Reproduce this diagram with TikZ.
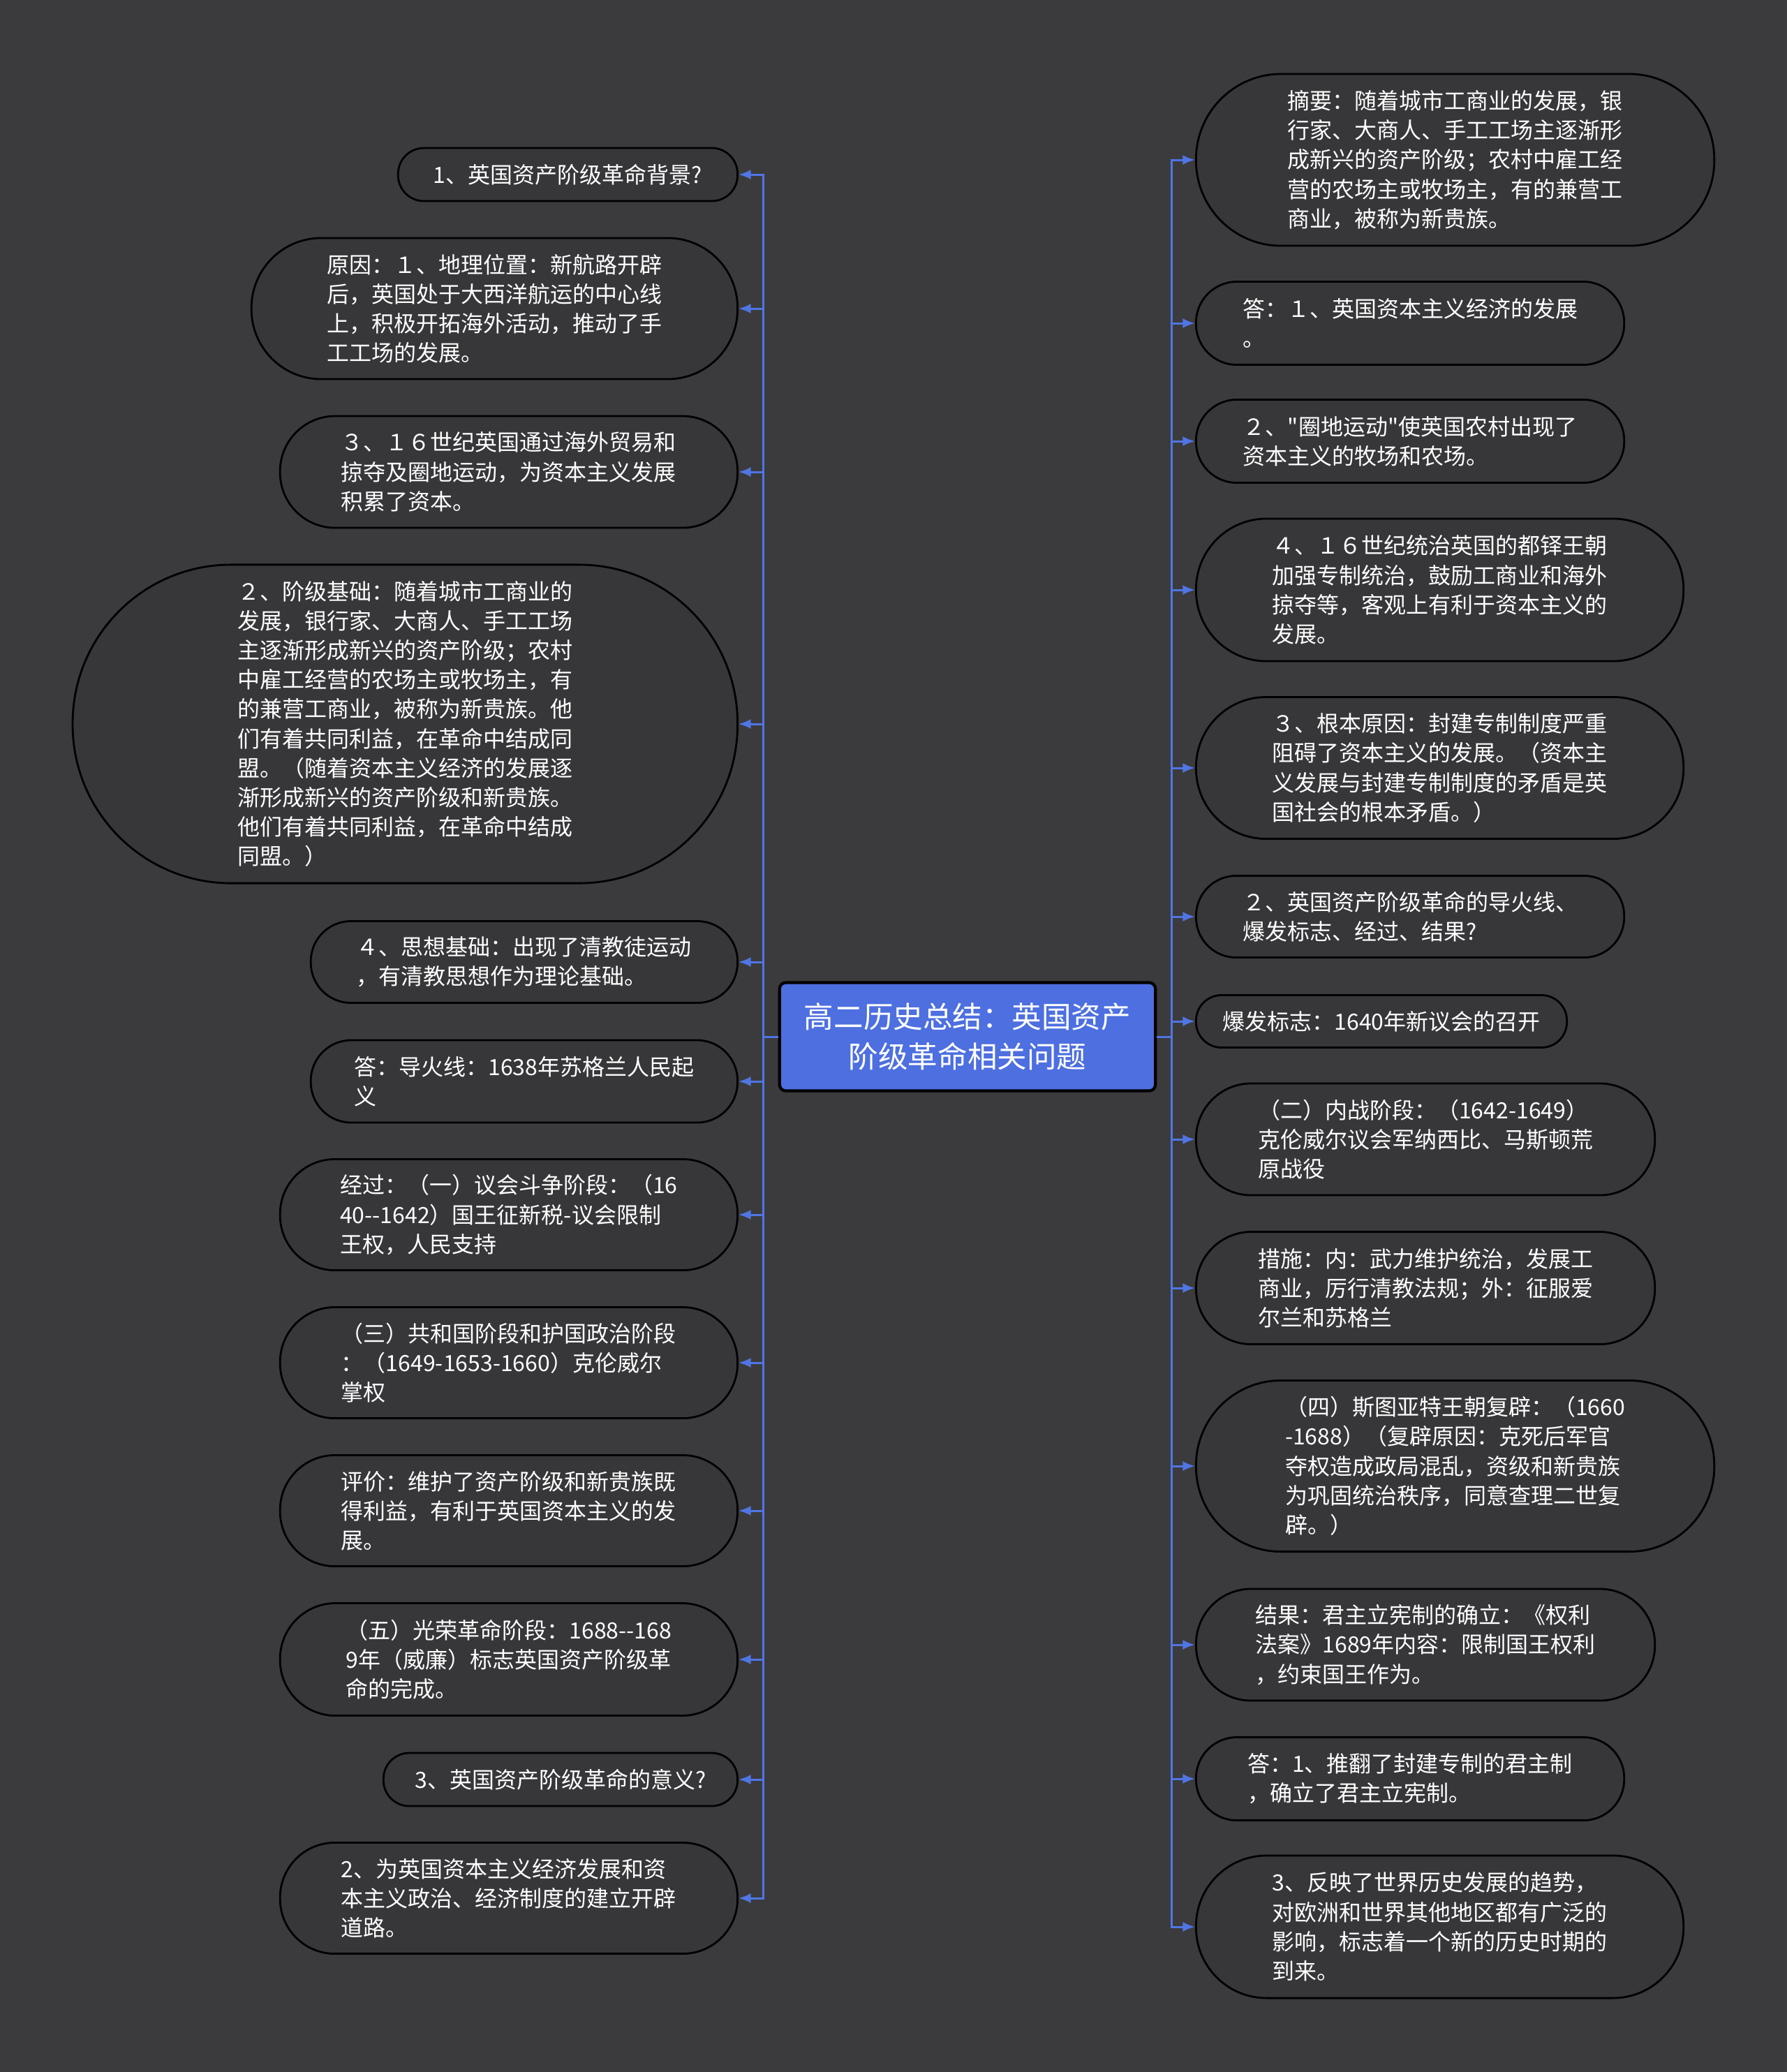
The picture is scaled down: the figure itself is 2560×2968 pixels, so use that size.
\documentclass[tikz,border=0pt]{standalone}
\usepackage{fontspec}
\setmainfont{Noto Sans CJK SC}[Ligatures=TeXOff]
\usetikzlibrary{arrows.meta}
\definecolor{bgdark}{HTML}{3B3B3D}
\definecolor{leaffill}{HTML}{37373A}
\definecolor{topicblue}{HTML}{4D6FE0}
\definecolor{linkblue}{HTML}{5075E4}

\begin{document}
\begin{tikzpicture}[x=0.01cm, y=-0.01cm,
leaf/.style={draw=black, line width=0.8pt, fill=leaffill, text=white, align=left,
    inner sep=0pt, font=\fontsize{9.1pt}{12pt}\selectfont},
dims/.style 2 args={minimum width=#1cm, minimum height=#2cm, rounded corners=#2*0.5cm-0.3pt},
topicbox/.style={draw=black, line width=1.2pt, fill=topicblue, text=white, align=center,
    rounded corners=2.5pt, minimum width=5.38cm, minimum height=1.55cm,
    font=\fontsize{12.1pt}{16.2pt}\selectfont},
link/.style={draw=linkblue, line width=0.85pt, -{Latex[length=5pt,width=4pt]}},
]

\fill[bgdark] (0,0) rectangle (2560,2968);

\node[topicbox] (topic) at (1386,1485) {高二历史总结：英国资产\\阶级革命相关问题};

% left branch
\node[leaf, dims={4.86}{0.76}, anchor=east] (l1) at (1058,250) {1、英国资产阶级革命背景?};
\node[leaf, dims={6.96}{2.02}, anchor=east] (l2) at (1058,442) {原因：１、地理位置：新航路开辟\\后，英国处于大西洋航运的中心线\\上，积极开拓海外活动，推动了手\\工工场的发展。};
\node[leaf, dims={6.55}{1.60}, anchor=east] (l3) at (1058,676) {３、１６世纪英国通过海外贸易和\\掠夺及圈地运动，为资本主义发展\\积累了资本。};
\node[leaf, dims={9.52}{4.56}, anchor=east] (l4) at (1058,1037) {２、阶级基础：随着城市工商业的\\发展，银行家、大商人、手工工场\\主逐渐形成新兴的资产阶级；农村\\中雇工经营的农场主或牧场主，有\\的兼营工商业，被称为新贵族。他\\们有着共同利益，在革命中结成同\\盟。（随着资本主义经济的发展逐\\渐形成新兴的资产阶级和新贵族。\\他们有着共同利益，在革命中结成\\同盟。）};
\node[leaf, dims={6.11}{1.17}, anchor=east] (l5) at (1058,1378) {４、思想基础：出现了清教徒运动\\，有清教思想作为理论基础。};
\node[leaf, dims={6.11}{1.18}, anchor=east] (l6) at (1058,1549) {答：导火线：1638年苏格兰人民起\\义};
\node[leaf, dims={6.55}{1.59}, anchor=east] (l7) at (1058,1740) {经过：（一）议会斗争阶段：（16\\40-{}-1642）国王征新税-议会限制\\王权，人民支持};
\node[leaf, dims={6.55}{1.59}, anchor=east] (l8) at (1058,1952) {（三）共和国阶段和护国政治阶段\\：（1649-1653-1660）克伦威尔\\掌权};
\node[leaf, dims={6.55}{1.59}, anchor=east] (l9) at (1058,2164) {评价：维护了资产阶级和新贵族既\\得利益，有利于英国资本主义的发\\展。};
\node[leaf, dims={6.55}{1.61}, anchor=east] (l10) at (1058,2377) {（五）光荣革命阶段：1688-{}-168\\9年（威廉）标志英国资产阶级革\\命的完成。};
\node[leaf, dims={5.07}{0.76}, anchor=east] (l11) at (1058,2549) {3、英国资产阶级革命的意义?};
\node[leaf, dims={6.55}{1.59}, anchor=east] (l12) at (1058,2719) {2、为英国资本主义经济发展和资\\本主义政治、经济制度的建立开辟\\道路。};

% right branch
\node[leaf, dims={7.42}{2.46}, anchor=west] (r1) at (1712,229) {摘要：随着城市工商业的发展，银\\行家、大商人、手工工场主逐渐形\\成新兴的资产阶级；农村中雇工经\\营的农场主或牧场主，有的兼营工\\商业，被称为新贵族。};
\node[leaf, dims={6.13}{1.19}, anchor=west] (r2) at (1712,463) {答：１、英国资本主义经济的发展\\。};
\node[leaf, dims={6.13}{1.19}, anchor=west] (r3) at (1712,632) {２、"圈地运动"使英国农村出现了\\资本主义的牧场和农场。};
\node[leaf, dims={6.98}{2.04}, anchor=west] (r4) at (1712,845) {４、１６世纪统治英国的都铎王朝\\加强专制统治，鼓励工商业和海外\\掠夺等，客观上有利于资本主义的\\发展。};
\node[leaf, dims={6.98}{2.03}, anchor=west] (r5) at (1712,1100) {３、根本原因：封建专制制度严重\\阻碍了资本主义的发展。（资本主\\义发展与封建专制制度的矛盾是英\\国社会的根本矛盾。）};
\node[leaf, dims={6.13}{1.17}, anchor=west] (r6) at (1712,1313) {２、英国资产阶级革命的导火线、\\爆发标志、经过、结果?};
\node[leaf, dims={5.31}{0.75}, anchor=west] (r7) at (1712,1463) {爆发标志：1640年新议会的召开};
\node[leaf, dims={6.57}{1.60}, anchor=west] (r8) at (1712,1632) {（二）内战阶段：（1642-1649）\\克伦威尔议会军纳西比、马斯顿荒\\原战役};
\node[leaf, dims={6.57}{1.61}, anchor=west] (r9) at (1712,1845) {措施：内：武力维护统治，发展工\\商业，厉行清教法规；外：征服爱\\尔兰和苏格兰};
\node[leaf, dims={7.42}{2.45}, anchor=west] (r10) at (1712,2100) {（四）斯图亚特王朝复辟：（1660\\-1688）（复辟原因：克死后军官\\夺权造成政局混乱，资级和新贵族\\为巩固统治秩序，同意查理二世复\\辟。）};
\node[leaf, dims={6.57}{1.60}, anchor=west] (r11) at (1712,2356) {结果：君主立宪制的确立：《权利\\法案》1689年内容：限制国王权利\\，约束国王作为。};
\node[leaf, dims={6.13}{1.19}, anchor=west] (r12) at (1712,2548) {答：1、推翻了封建专制的君主制\\，确立了君主立宪制。};
\node[leaf, dims={6.98}{2.04}, anchor=west] (r13) at (1712,2760) {3、反映了世界历史发展的趋势，\\对欧洲和世界其他地区都有广泛的\\影响，标志着一个新的历史时期的\\到来。};

\coordinate (lbus) at ([xshift=-0.21cm]topic.west);
\coordinate (rbus) at ([xshift=0.21cm]topic.east);
\foreach \i in {1,...,12} \draw[link] (topic.west) -- (lbus) |- (l\i.east);
\foreach \i in {1,...,13} \draw[link] (topic.east) -- (rbus) |- (r\i.west);

\end{tikzpicture}
\end{document}
